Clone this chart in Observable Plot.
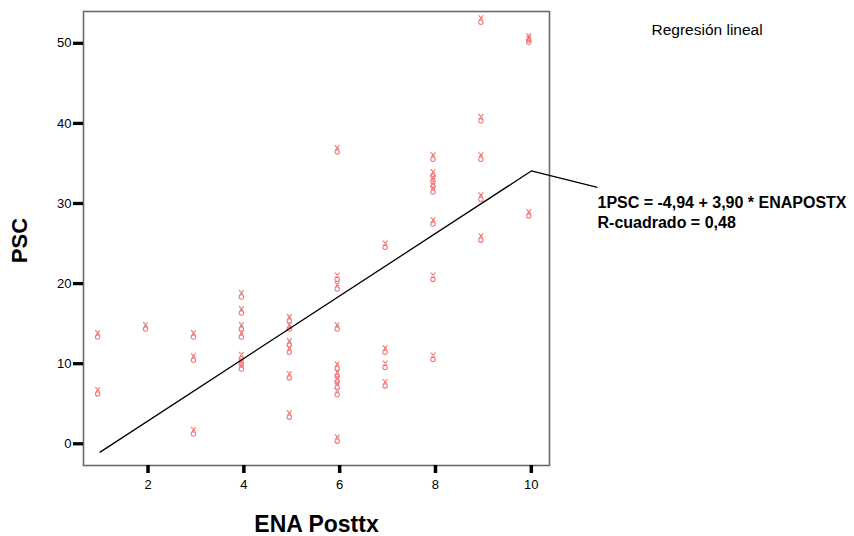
<!DOCTYPE html>
<html>
<head>
<meta charset="utf-8">
<script src="https://cdn.jsdelivr.net/npm/d3@7"></script>
<script src="https://cdn.jsdelivr.net/npm/@observablehq/plot@0.6"></script>
<style>
  body { margin: 0; background: white; }
</style>
</head>
<body>
<div id="chart"></div>
<script>
const enaValues = [
  1, 1,
  2,
  3, 3, 3,
  4, 4, 4, 4, 4, 4, 4,
  5, 5, 5, 5, 5, 5,
  6, 6, 6, 6, 6, 6, 6, 6, 6, 6,
  7, 7, 7, 7,
  8, 8, 8, 8, 8, 8, 8, 8,
  9, 9, 9, 9, 9,
  10, 10, 10
];
const pscValues = [
  13.6, 6.5,
  14.6,
  13.6, 10.7, 1.5,
  18.6, 16.6, 14.6, 13.6, 10.9, 10.2, 9.6,
  15.6, 14.6, 12.6, 11.7, 8.5, 3.6,
  36.7, 20.8, 19.6, 14.6, 9.7, 8.7, 8.0, 7.3, 6.4, 0.6,
  24.8, 11.7, 9.8, 7.5,
  35.8, 33.7, 33.0, 32.4, 31.7, 27.7, 20.8, 10.8,
  52.9, 40.6, 35.8, 30.8, 25.7,
  50.7, 50.4, 28.7
];

// Fitted line: PSC = -4,94 + 3,90 * ENAPOSTX, from x = 1 to x = 10
const fitX = [1, 10];
const fitY = [-1.04, 34.06];

// Leader line end (where the equation label starts)
const leaderX = [10, 11.38];
const leaderY = [34.06, 32.0];

const xTicks = [2, 4, 6, 8, 10];
const yTicks = [0, 10, 20, 30, 40, 50];

const titleText = "Regresión lineal";
const equationText = "1PSC = -4,94 + 3,90 * ENAPOSTX\nR-cuadrado = 0,48";
const xLabel = "ENA Posttx";
const yLabel = "PSC";

const points = enaValues.map((x, i) => ({x, y: pscValues[i]}));
const fit = fitX.map((x, i) => ({x, y: fitY[i]}));
const leader = [{x1: leaderX[0], y1: leaderY[0], x2: leaderX[1], y2: leaderY[1]}];

// SPSS-like marker: small "x" above a small circle
const spssMarker = {
  draw(ctx, size) {
    const r = Math.sqrt(size / Math.PI);
    const k = r / 4.5;
    ctx.moveTo(-2.4 * k, -4.6 * k);
    ctx.lineTo(2.0 * k, -0.4 * k);
    ctx.moveTo(2.4 * k, -4.6 * k);
    ctx.lineTo(-1.6 * k, -0.2 * k);
    ctx.moveTo(2.2 * k, 2.2 * k);
    ctx.arc(0, 2.2 * k, 2.2 * k, 0, 2 * Math.PI);
  }
};

const chart = Plot.plot({
  width: 854,
  height: 536,
  marginLeft: 83,
  marginRight: 305,
  marginTop: 11,
  marginBottom: 71,
  style: {fontFamily: "'Liberation Sans', Arial, sans-serif", fontSize: "13px", background: "white", color: "black"},
  x: {domain: [0.653, 10.38]},
  y: {domain: [-2.71, 53.97]},
  marks: [
    Plot.frame({stroke: "#6a6a6a", strokeWidth: 1.6}),
    Plot.axisX(xTicks, {tickSize: 8, tickPadding: 6, strokeWidth: 3.5, color: "black", fontSize: 13, label: null}),
    Plot.axisY(yTicks, {tickSize: 10, tickPadding: 2, strokeWidth: 3.3, color: "black", fontSize: 13, label: null}),
    Plot.dot(points, {x: "x", y: "y", symbol: spssMarker, r: 4.5, stroke: "#f07878", strokeWidth: 1.1, fill: "none", dx: -2.5}),
    Plot.line(fit, {x: "x", y: "y", stroke: "black", strokeWidth: 1.3}),
    Plot.link(leader, {x1: "x1", y1: "y1", x2: "x2", y2: "y2", stroke: "black", strokeWidth: 1.3}),
    Plot.text([equationText], {frameAnchor: "top-right", textAnchor: "start", lineAnchor: "top", dx: 48, dy: 182, fontSize: 16, fontWeight: "bold", lineHeight: 1.25, fill: "black"}),
    Plot.text([titleText], {frameAnchor: "top-right", textAnchor: "start", lineAnchor: "bottom", dx: 102, dy: 23, fontSize: 15.5, fill: "black"}),
    Plot.text([xLabel], {frameAnchor: "bottom", textAnchor: "middle", lineAnchor: "bottom", dy: 66.5, fontSize: 23, fontWeight: "bold", fill: "black"}),
    Plot.text([yLabel], {frameAnchor: "left", textAnchor: "middle", lineAnchor: "bottom", rotate: -90, dx: -57, dy: 2, fontSize: 22, fontWeight: "bold", fill: "black"})
  ]
});
document.getElementById("chart").appendChild(chart);
</script>
</body>
</html>
